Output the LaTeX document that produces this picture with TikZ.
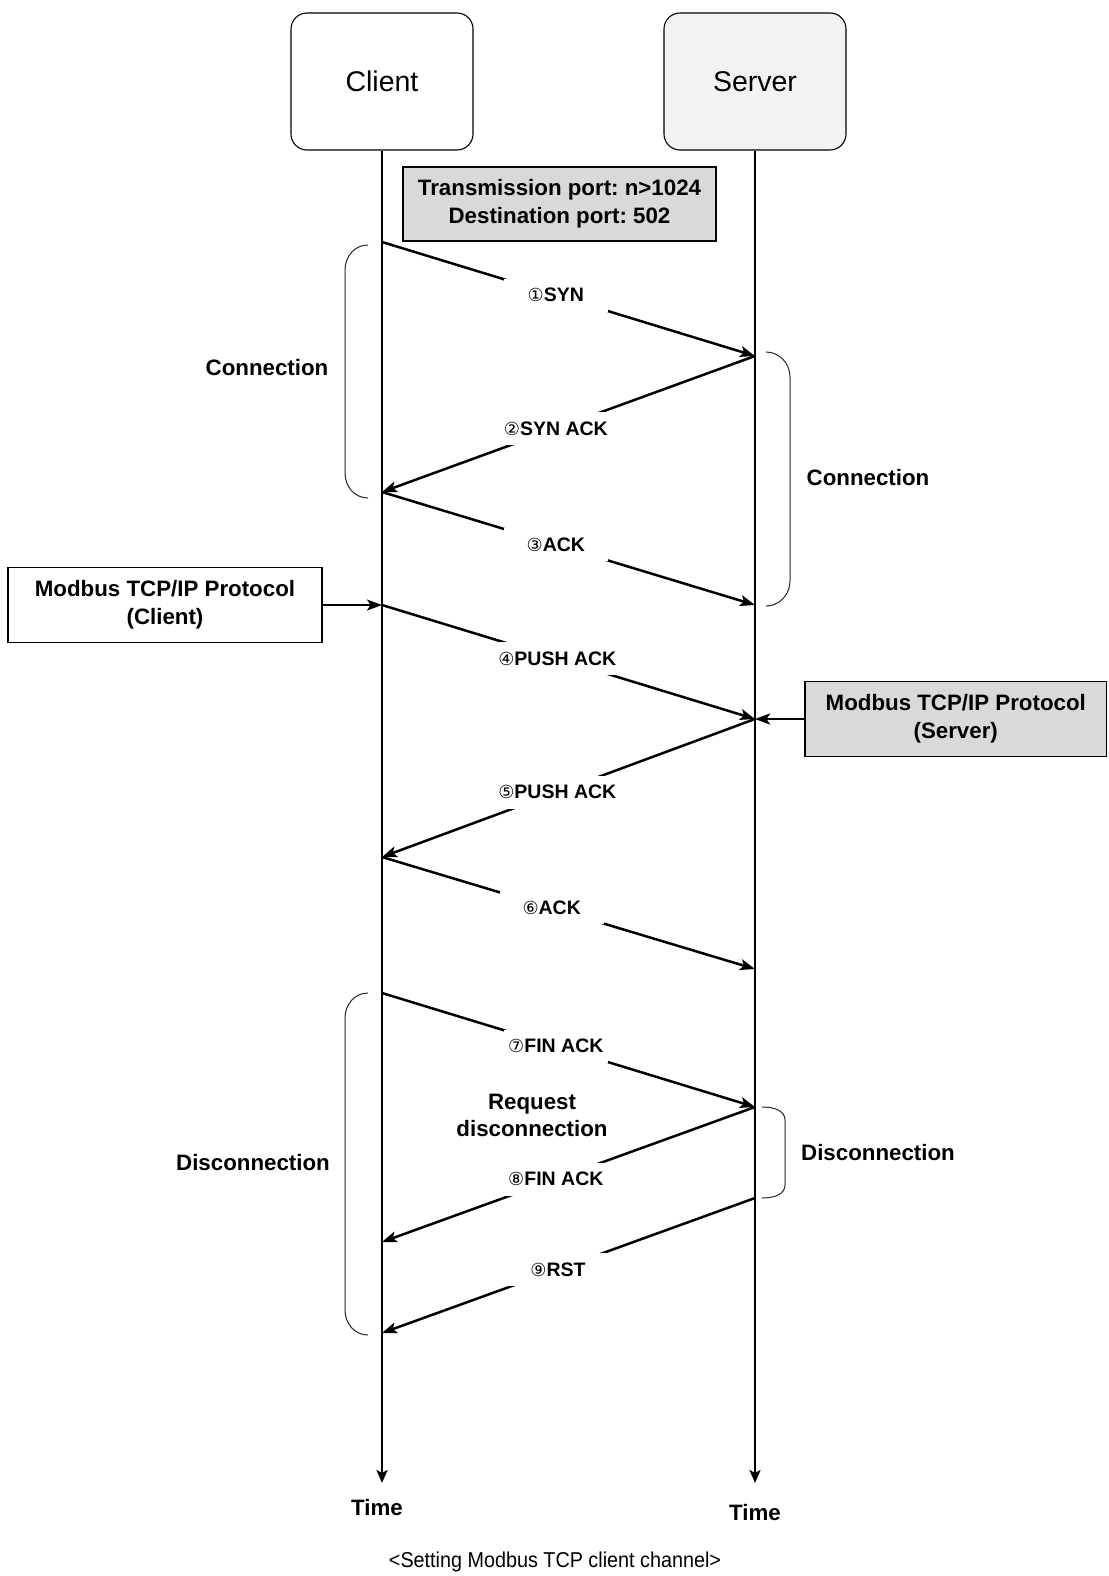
\documentclass[tikz,border=0pt]{standalone}
\usepackage{fontspec}
\usepackage{graphicx}
\setmainfont{Liberation Sans}
\newfontfamily\djv{DejaVu Sans}
\usetikzlibrary{arrows.meta}
\definecolor{notegray}{HTML}{D9D9D9}
\definecolor{servergray}{HTML}{F2F2F2}
\newcommand\cnum[1]{{\djv\mdseries\fontsize{18}{20}\selectfont #1}}
\frenchspacing
\begin{document}
\begin{tikzpicture}[x=1pt,y=-1pt,
  every node/.style={inner sep=0pt},
  actor/.style={draw=black, line width=1.1pt, rounded corners=16pt, minimum width=182pt, minimum height=137pt, font=\fontsize{28.5}{32}\selectfont},
  notebox/.style={draw=black, line width=1.1pt, align=center, font=\fontsize{22.3}{28}\selectfont\bfseries},
  lifeline/.style={line width=2.6pt, -{Stealth[length=13pt,width=11pt,inset=3pt]}},
  msg/.style={line width=2.5pt, -{Stealth[length=15pt,width=11pt,inset=3.5pt]}},
  msglabel/.style={fill=white, minimum width=104pt, minimum height=33pt, inner xsep=3pt, font=\fontsize{19.5}{22}\selectfont\bfseries},
  bracketline/.style={draw=black!85, line width=1pt},
  phase/.style={font=\fontsize{22.3}{27}\selectfont\bfseries, align=center},
]
\useasboundingbox (0,0) rectangle (1108,1576);

% actors
\node[actor] (client) at (382,81.5) {Client};
\node[actor, fill=servergray] (server) at (755,81.5) {Server};

% lifeline ends and event points
\coordinate (cend) at (382,1483);
\coordinate (send) at (755,1483);
\coordinate (c1) at (382,242);
\coordinate (s1) at (755,356);
\coordinate (c2) at (382,492);
\coordinate (s2) at (755,605);
\coordinate (c3) at (382,605);
\coordinate (s3) at (755,719);
\coordinate (c4) at (382,857);
\coordinate (s4) at (755,969);
\coordinate (c5) at (382,993);
\coordinate (s5) at (755,1107);
\coordinate (c6) at (382,1242);
\coordinate (s6) at (755,1198);
\coordinate (c7) at (382,1333);

\draw[lifeline] (client.south) -- (cend);
\draw[lifeline] (server.south) -- (send);

% note boxes
\node[notebox, fill=notegray, minimum width=313pt, minimum height=74pt] (ports) at (559.5,204) {Transmission port: n>1024\\Destination port: 502};
\node[notebox, fill=white, minimum width=314pt, minimum height=75pt] (cproto) at (165,605) {Modbus TCP/IP Protocol\\(Client)};
\node[notebox, fill=notegray, minimum width=301.5pt, minimum height=75pt] (sproto) at (955.75,719) {Modbus TCP/IP Protocol\\(Server)};

\draw[msg] (cproto.east) -- (c3);
\draw[msg] (sproto.west) -- (s3);

% messages
\draw[msg] (c1) -- node[msglabel, pos=.466] {\cnum{①}SYN} (s1);
\draw[msg] (s1) -- node[msglabel, pos=.534] {\cnum{②}SYN ACK} (c2);
\draw[msg] (c2) -- node[msglabel, pos=.466] {\cnum{③}ACK} (s2);
\draw[msg] (c3) -- node[msglabel, pos=.47] {\cnum{④}PUSH ACK} (s3);
\draw[msg] (s3) -- node[msglabel, pos=.53] {\cnum{⑤}PUSH ACK} (c4);
\draw[msg] (c4) -- node[msglabel, pos=.455] {\cnum{⑥}ACK} (s4);
\draw[msg] (c5) -- node[msglabel, pos=.466] {\cnum{⑦}FIN ACK} (s5);
\draw[msg] (s5) -- node[msglabel, pos=.534] {\cnum{⑧}FIN ACK} (c6);
\draw[msg] (s6) -- node[msglabel, pos=.528] {\cnum{⑨}RST} (c7);

% brackets
\draw[bracketline] (368,245) .. controls (355,245) and (345,256) .. (345,270) -- (345,473) .. controls (345,487) and (355,498) .. (368,498);
\draw[bracketline] (766,352) .. controls (779,352) and (790,363) .. (790,377) -- (790,581) .. controls (790,595) and (779,606) .. (766,606);
\draw[bracketline] (368,993) .. controls (355,993) and (345,1004) .. (345,1018) -- (345,1310) .. controls (345,1324) and (355,1335) .. (368,1335);
\draw[bracketline] (762,1107) .. controls (775,1107) and (785,1111) .. (785,1120) -- (785,1185) .. controls (785,1194) and (775,1198) .. (762,1198);

% phase labels
\node[phase] (conL) at (267,368) {Connection};
\node[phase] (conR) at (868,478) {Connection};
\node[phase] (disL) at (253,1163) {Disconnection};
\node[phase] (disR) at (878,1153) {Disconnection};
\node[phase] (reqdis) at (532,1115) {Request\\disconnection};

% time labels
\node[phase] (timeL) at (377,1508) {Time};
\node[phase] (timeR) at (755,1513) {Time};

% caption
\node[font=\fontsize{21.5}{25}\selectfont] (caption) at (555,1562) {\scalebox{0.92}[1]{<Setting Modbus TCP client channel>}};
\end{tikzpicture}
\end{document}
